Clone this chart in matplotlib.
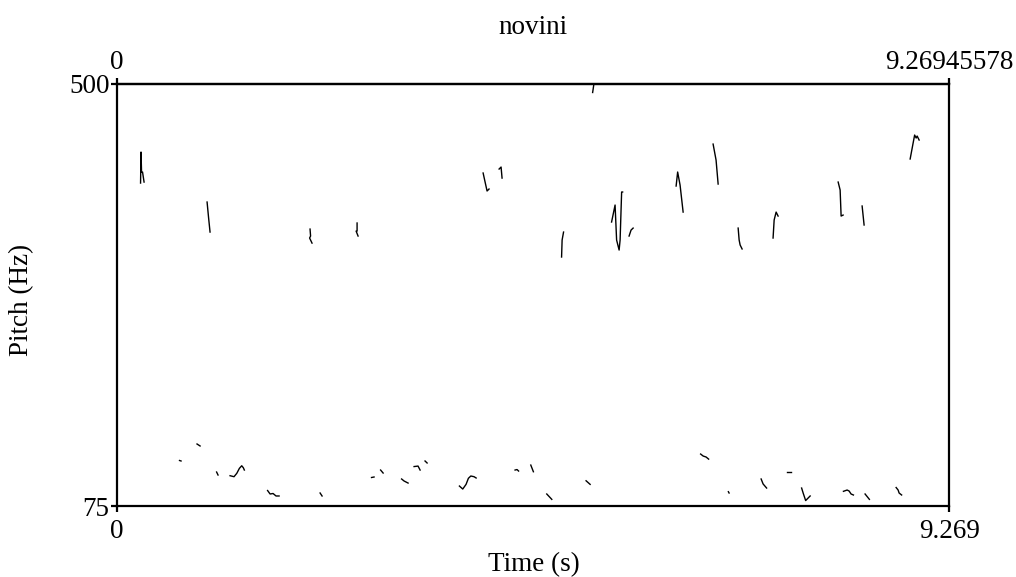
import matplotlib
matplotlib.use("Agg")
import matplotlib.pyplot as plt

# Praat pitch track "novini" - voiced fragments (time in s, pitch in Hz)
t_max = 9.26945578
f_min, f_max = 75, 500

seg_times = [
    [0.262, 0.267, 0.273, 0.284, 0.301],
    [1.003, 1.019, 1.036],
    [2.150, 2.156, 2.145, 2.172],
    [2.674, 2.674, 2.663, 2.685],
    [5.298, 5.312, 5.322],
    [4.078, 4.100, 4.122, 4.144],
    [4.256, 4.278, 4.289],
    [4.952, 4.958, 4.974],
    [5.509, 5.548, 5.565, 5.593, 5.604, 5.621, 5.632],
    [5.704, 5.726, 5.749],
    [6.228, 6.245, 6.272, 6.306],
    [6.640, 6.673, 6.696],
    [6.919, 6.930, 6.941, 6.963],
    [7.308, 7.320, 7.342, 7.364],
    [8.033, 8.055, 8.066, 8.088],
    [8.300, 8.322],
    [8.835, 8.868, 8.885, 8.902, 8.913, 8.935],
    [0.696, 0.713],
    [0.891, 0.925],
    [1.109, 1.125],
    [1.259, 1.303, 1.334, 1.363, 1.389, 1.407, 1.418],
    [1.677, 1.705, 1.738, 1.771, 1.805],
    [2.262, 2.284],
    [2.835, 2.863],
    [2.936, 2.964],
    [3.170, 3.197, 3.242],
    [3.309, 3.353, 3.376],
    [3.431, 3.454],
    [3.814, 3.851, 3.888, 3.914, 3.941, 3.977, 4.000],
    [4.434, 4.456, 4.473],
    [4.609, 4.638],
    [4.787, 4.843],
    [5.225, 5.270],
    [6.501, 6.529, 6.562, 6.590],
    [6.810, 6.818],
    [7.175, 7.197, 7.236],
    [7.468, 7.506],
    [7.626, 7.643, 7.671, 7.698, 7.721],
    [8.092, 8.133, 8.155, 8.177, 8.203],
    [8.333, 8.381],
    [8.679, 8.701, 8.712, 8.740],
]

seg_pitch = [
    [399.9, 431.1, 411.0, 411.0, 400.9],
    [380.8, 365.7, 350.6],
    [353.6, 346.6, 344.6, 339.5],
    [359.7, 351.6, 351.6, 346.6],
    [491.0, 499.5, 505.0],
    [410.0, 400.9, 391.9, 393.9],
    [414.0, 416.0, 404.9],
    [325.5, 342.6, 350.6],
    [360.7, 377.8, 342.6, 332.5, 342.6, 390.9, 390.9],
    [346.6, 352.6, 354.6],
    [396.9, 411.0, 397.9, 370.7],
    [439.1, 423.0, 398.9],
    [354.6, 342.6, 337.6, 333.6],
    [344.6, 362.7, 370.7, 366.7],
    [400.9, 392.9, 366.7, 367.7],
    [376.8, 357.7],
    [424.1, 440.1, 448.2, 445.2, 447.2, 443.2],
    [120.8, 120.3],
    [137.4, 135.4],
    [109.2, 106.2],
    [105.5, 104.5, 107.9, 112.9, 115.5, 113.5, 111.2],
    [90.6, 87.1, 87.6, 85.1, 85.1],
    [88.1, 85.1],
    [103.7, 104.2],
    [111.2, 108.2],
    [102.2, 100.2, 98.1],
    [114.7, 115.2, 111.2],
    [120.3, 118.3],
    [95.1, 92.1, 96.8, 102.9, 105.2, 104.5, 103.2],
    [111.2, 111.7, 110.2],
    [116.2, 109.5],
    [87.1, 81.7],
    [100.4, 96.8],
    [127.3, 125.3, 124.3, 122.2],
    [89.4, 88.1],
    [102.2, 97.2, 93.1],
    [108.9, 108.9],
    [93.1, 88.1, 80.5, 83.0, 85.1],
    [89.8, 91.1, 90.1, 87.1, 86.1],
    [87.1, 81.7],
    [93.6, 91.1, 88.1, 86.1],
]

plt.rcParams['font.family'] = ['Liberation Serif', 'DejaVu Serif']
fs_txt = 19.5

fig = plt.figure(figsize=(10.16, 5.77), dpi=100)
ax = fig.add_axes([0.1152, 0.123, 0.819, 0.7322])

for ts, fs in zip(seg_times, seg_pitch):
    ax.plot(ts, fs, color='black', lw=1.0)

ax.set_xlim(0, t_max)
ax.set_ylim(f_min, f_max)
for sp in ax.spines.values():
    sp.set_linewidth(1.6)

ax.set_xticks([0, t_max])
ax.set_xticklabels(['0', '9.269'])
ax.set_yticks([f_min, f_max])
ax.set_yticklabels(['75', '500'])
ax.tick_params(direction='out', length=4.5, width=1.6, labelsize=fs_txt)
ax.tick_params(axis='x', pad=5)
ax.tick_params(axis='y', pad=1)

top = ax.secondary_xaxis('top')
top.set_xticks([0, t_max])
top.set_xticklabels(['0', '9.26945578'])
top.tick_params(direction='out', length=4.5, width=1.6, labelsize=fs_txt, pad=2)
top.spines['top'].set_linewidth(1.6)

fig.text(0.525, 1 - 565 / 577, 'Time (s)', fontsize=fs_txt, ha='center', va='center')
fig.text(22 / 1016, 1 - 300 / 577, 'Pitch (Hz)', fontsize=fs_txt, ha='center', va='center',
         rotation=90)
fig.text(0.525, 1 - 28 / 577, 'novini', fontsize=fs_txt, ha='center', va='center')

fig.savefig('out.png', dpi=100)
